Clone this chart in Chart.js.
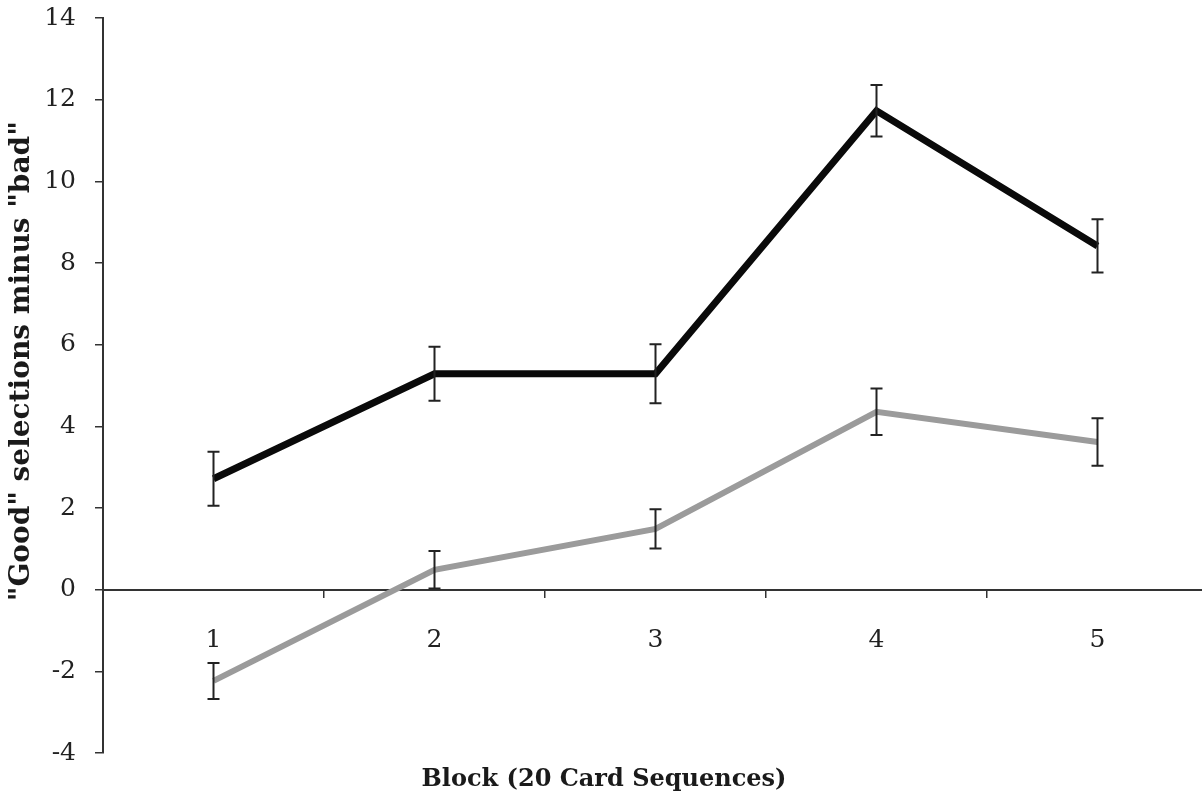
<!DOCTYPE html>
<html>
<head>
<meta charset="utf-8">
<script src="https://cdn.jsdelivr.net/npm/chart.js@4/dist/chart.umd.min.js"></script>
<style>
  html, body { margin: 0; padding: 0; background: #fff; overflow: hidden; }
  #wrap { width: 1210px; height: 799px; position: relative; }
</style>
</head>
<body>
<div id="wrap"><canvas id="c"></canvas></div>
<script>
const categories = ['1', '2', '3', '4', '5'];
const blackValues = [2.72, 5.29, 5.29, 11.73, 8.42];
const blackErrors = [0.66, 0.66, 0.72, 0.63, 0.65];
const grayValues = [-2.23, 0.49, 1.49, 4.36, 3.62];
const grayErrors = [0.44, 0.46, 0.48, 0.57, 0.58];
const yTicks = [-4, -2, 0, 2, 4, 6, 8, 10, 12, 14];
const yTitle = '\u00a0\u00a0\u00a0\u00a0\u00a0"Good" selections minus "bad"';
const xTitle = 'Block (20 Card Sequences)';

const errorBarPlugin = {
  id: 'errorBars',
  afterDatasetsDraw(chart) {
    const ctx = chart.ctx;
    const xs = chart.scales.x, ys = chart.scales.y;
    ctx.save();
    ctx.strokeStyle = '#222';
    ctx.lineWidth = 2;
    chart.data.datasets.forEach(ds => {
      ds.data.forEach((v, i) => {
        const e = ds.errors[i];
        const x = xs.getPixelForValue(i);
        const yt = ys.getPixelForValue(v + e);
        const yb = ys.getPixelForValue(v - e);
        const cap = 6;
        ctx.beginPath();
        ctx.moveTo(x, yt); ctx.lineTo(x, yb);
        ctx.moveTo(x - cap, yt); ctx.lineTo(x + cap, yt);
        ctx.moveTo(x - cap, yb); ctx.lineTo(x + cap, yb);
        ctx.stroke();
      });
    });
    ctx.restore();
  }
};

new Chart(document.getElementById('c'), {
  type: 'line',
  data: {
    labels: categories,
    datasets: [
      { data: grayValues, errors: grayErrors, borderColor: '#9b9b9b', borderWidth: 6, pointRadius: 0, tension: 0, fill: false },
      { data: blackValues, errors: blackErrors, borderColor: '#0a0a0a', borderWidth: 7, pointRadius: 0, tension: 0, fill: false }
    ]
  },
  options: {
    responsive: true,
    maintainAspectRatio: false,
    animation: false,
    layout: { padding: { top: 18, right: 2, left: 0, bottom: 0 } },
    plugins: {
      legend: { display: false },
      tooltip: { enabled: false },
      title: {
        display: true,
        position: 'bottom',
        text: xTitle,
        color: '#1a1a1a',
        font: { family: 'DejaVu Serif', size: 24, weight: 'bold' },
        padding: { top: 12, bottom: 5 }
      }
    },
    scales: {
      x: {
        type: 'category',
        position: { y: 0 },
        offset: true,
        grid: { display: true, drawOnChartArea: false, drawTicks: true, tickLength: 7, offset: true, color: '#333', lineWidth: 1.5 },
        border: { display: true, color: '#333', width: 2 },
        ticks: { color: '#222', padding: 29, font: { family: 'DejaVu Serif', size: 25 } }
      },
      y: {
        min: -4,
        max: 14,
        afterBuildTicks(scale) { scale.ticks = yTicks.map(v => ({ value: v })); },
        afterFit(scale) { scale.width = 103; scale.paddingTop = 0; scale.paddingBottom = 0; },
        grid: { display: true, drawOnChartArea: false, drawTicks: true, tickLength: 8, color: '#333', lineWidth: 1.5 },
        border: { display: true, color: '#333', width: 2 },
        ticks: { color: '#222', padding: 19, font: { family: 'DejaVu Serif', size: 25 } },
        title: {
          display: true,
          text: yTitle,
          color: '#1a1a1a',
          font: { family: 'DejaVu Serif', size: 28, weight: 'bold' },
          padding: { top: 5, bottom: 0 }
        }
      }
    }
  },
  plugins: [errorBarPlugin]
});
</script>
</body>
</html>
